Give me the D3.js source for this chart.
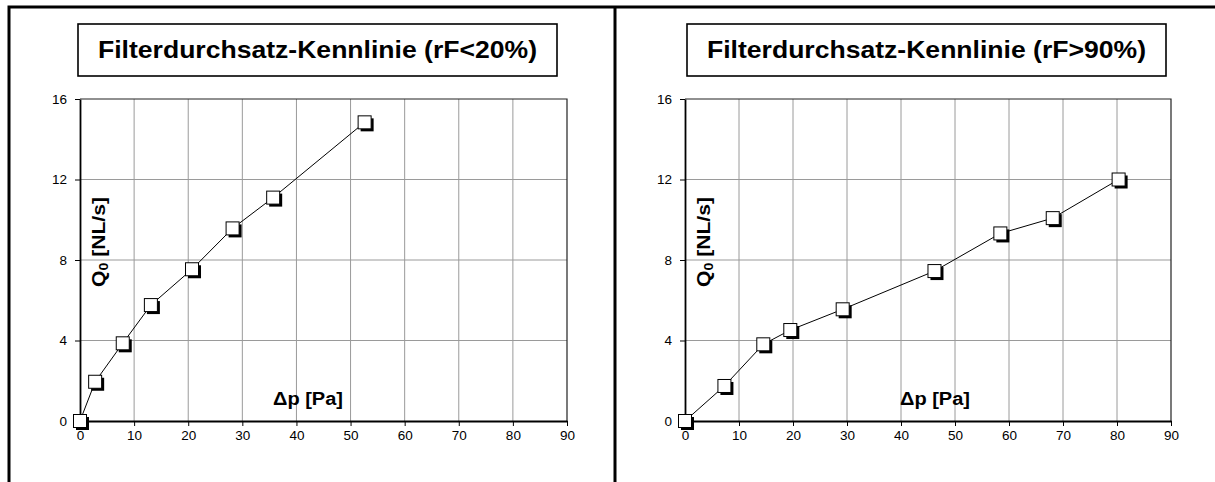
<!DOCTYPE html>
<html lang="de">
<head>
<meta charset="UTF-8">
<title>Filterdurchsatz-Kennlinie</title>
<script src="https://cdn.jsdelivr.net/npm/d3@7/dist/d3.min.js"></script>
<style>
    body { margin: 0; background: #fff; }
    svg { display: block; font-family: "Liberation Sans", Arial, sans-serif; }
    .grid line { stroke: #9a9a9a; stroke-width: 1; }
    .axis path, .axis line { stroke: #000; }
    .axis text { font-size: 13.5px; fill: #000; }
</style>
</head>
<body>
<svg id="chart" width="1215" height="482"></svg>
<script>
// Filterdurchsatz: Druckdifferenz dp [Pa] gegen Volumenstrom Q0 [NL/s]
var xTicks = [0, 10, 20, 30, 40, 50, 60, 70, 80, 90];
var yTicks = [0, 4, 8, 12, 16];

var titleDry = "Filterdurchsatz-Kennlinie (rF<20%)";
var dpDry = [0, 2.8, 7.9, 13.1, 20.7, 28.2, 35.7, 52.6];
var qDry  = [0, 1.95, 3.86, 5.76, 7.54, 9.57, 11.1, 14.84];

var titleWet = "Filterdurchsatz-Kennlinie (rF>90%)";
var dpWet = [0, 7.3, 14.5, 19.5, 29.2, 46.2, 58.4, 68.1, 80.3];
var qWet  = [0, 1.74, 3.81, 4.52, 5.55, 7.45, 9.32, 10.08, 12.0];

var svg = d3.select("#chart");

// outer frame of the sheet
svg.append("path")
    .attr("d", "M9,482V7H1215M615,7V482")
    .attr("fill", "none")
    .attr("stroke", "#000")
    .attr("stroke-width", 3);

function panel(opt) {
    var g = svg.append("g");
    var x = d3.scaleLinear().domain([0, 90]).range([opt.left, opt.right]);
    var y = d3.scaleLinear().domain([0, 16]).range([421, 99]);

    // title box
    g.append("rect")
        .attr("x", opt.boxX).attr("y", 24)
        .attr("width", 479).attr("height", 52)
        .attr("fill", "#fff").attr("stroke", "#000").attr("stroke-width", 1.6);
    g.append("text")
        .attr("x", opt.boxX + 239.5).attr("y", 58)
        .attr("text-anchor", "middle")
        .attr("font-size", 24).attr("font-weight", "bold")
        .attr("textLength", 439).attr("lengthAdjust", "spacingAndGlyphs")
        .text(opt.title);

    // grid
    var grid = g.append("g").attr("class", "grid");
    grid.selectAll("line.v").data(xTicks.slice(1, -1)).enter().append("line")
        .attr("x1", function(d) { return x(d); }).attr("x2", function(d) { return x(d); })
        .attr("y1", y(0)).attr("y2", y(16));
    grid.selectAll("line.h").data(yTicks.slice(1, -1)).enter().append("line")
        .attr("x1", x(0)).attr("x2", x(90))
        .attr("y1", function(d) { return y(d); }).attr("y2", function(d) { return y(d); });

    // plot border (top / right)
    g.append("path")
        .attr("d", "M" + x(0) + "," + y(16) + "H" + x(90) + "V" + y(0))
        .attr("fill", "none").attr("stroke", "#222").attr("stroke-width", 1.2);

    g.append("g").attr("class", "axis")
        .attr("transform", "translate(0," + y(0) + ")")
        .call(d3.axisBottom(x).tickValues(xTicks).tickSize(5).tickSizeOuter(0).tickPadding(4))
        .select(".domain").attr("stroke-width", 1.8);
    g.append("g").attr("class", "axis")
        .attr("transform", "translate(" + x(0) + ",0)")
        .call(d3.axisLeft(y).tickValues(yTicks).tickSize(5).tickSizeOuter(0).tickPadding(8))
        .select(".domain").attr("stroke-width", 1.8);

    // axis titles
    var yl = g.append("text")
        .attr("transform", "translate(" + (x(0) + 25) + ",287) rotate(-90)")
        .attr("font-size", 18).attr("font-weight", "bold")
        .attr("textLength", 90).attr("lengthAdjust", "spacingAndGlyphs");
    yl.append("tspan").text("Q");
    yl.append("tspan").attr("font-size", 12).attr("dy", 3).text("0");
    yl.append("tspan").attr("dy", -3).text(" [NL/s]");

    g.append("text")
        .attr("x", opt.dpX).attr("y", 405)
        .attr("font-size", 18).attr("font-weight", "bold")
        .attr("textLength", 70).attr("lengthAdjust", "spacingAndGlyphs")
        .text("\u0394p [Pa]");

    // curve and markers
    var pts = opt.dp.map(function(d, i) { return [d, opt.q[i]]; });
    g.append("path")
        .datum(pts)
        .attr("fill", "none").attr("stroke", "#000").attr("stroke-width", 1)
        .attr("d", d3.line().x(function(d) { return x(d[0]); }).y(function(d) { return y(d[1]); }));

    var s = 13;
    var m = g.selectAll("g.mk").data(pts).enter().append("g")
        .attr("transform", function(d) { return "translate(" + x(d[0]) + "," + y(d[1]) + ")"; });
    m.append("rect")
        .attr("x", -s / 2 + 2.5).attr("y", -s / 2 + 2.5).attr("width", s).attr("height", s)
        .attr("fill", "#000");
    m.append("rect")
        .attr("x", -s / 2).attr("y", -s / 2).attr("width", s).attr("height", s)
        .attr("fill", "#fff").attr("stroke", "#000").attr("stroke-width", 1);
}

panel({ title: titleDry, dp: dpDry, q: qDry, left: 80, right: 567, boxX: 78, dpX: 273 });
panel({ title: titleWet, dp: dpWet, q: qWet, left: 685, right: 1171, boxX: 687, dpX: 900 });
</script>
</body>
</html>
